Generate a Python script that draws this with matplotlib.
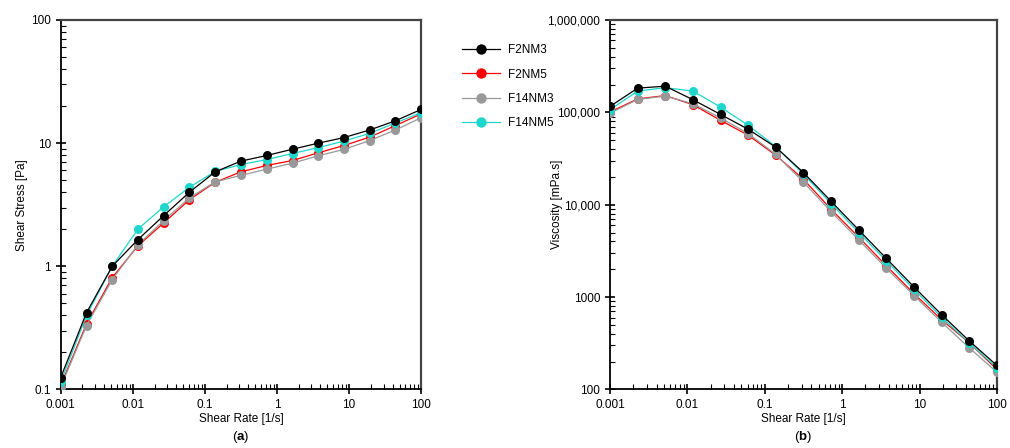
import matplotlib
matplotlib.use("Agg")
import matplotlib.pyplot as plt
from matplotlib.ticker import LogLocator, FixedLocator, FixedFormatter, NullFormatter

# --- data ---
shear_rate = [0.001, 0.00228, 0.00518, 0.0118, 0.0268, 0.0611, 0.139, 0.316,
              0.720, 1.64, 3.73, 8.48, 19.3, 43.9, 100]

series_names = ["F2NM3", "F2NM5", "F14NM3", "F14NM5"]
series_colors = ["#000000", "#ff0000", "#999999", "#1fd6cc"]
series_z = [6, 3, 4, 5]

stress_f2nm3 = [0.125, 0.42, 1.0, 1.65, 2.58, 4.0, 5.85, 7.15, 7.94, 8.93, 10.0, 11.1, 12.8, 15.2, 18.8]
stress_f2nm5 = [0.108, 0.34, 0.81, 1.47, 2.25, 3.48, 4.82, 5.85, 6.59, 7.23, 8.35, 9.57, 11.2, 13.9, 17.3]
stress_f14nm3 = [0.105, 0.33, 0.78, 1.50, 2.35, 3.60, 4.85, 5.48, 6.15, 6.88, 7.9, 8.89, 10.5, 12.8, 16.1]
stress_f14nm5 = [0.115, 0.40, 1.0, 2.01, 3.04, 4.39, 5.9, 6.7, 7.36, 8.24, 9.2, 10.4, 12.0, 14.6, 17.7]

visc_f2nm3 = [116000, 183000, 192000, 137000, 95000, 65600, 41900, 22300, 10900, 5330, 2620, 1290, 646, 336, 182]
visc_f2nm5 = [100800, 140000, 152000, 121000, 82000, 56500, 34300, 18900, 8920, 4450, 2180, 1090, 570, 320, 165]
visc_f14nm3 = [98000, 138000, 150000, 124000, 87000, 59000, 35000, 17600, 8400, 4160, 2050, 1040, 535, 282, 154]
visc_f14nm5 = [107000, 170000, 185000, 170000, 114000, 72400, 42500, 21500, 10300, 5000, 2460, 1210, 605, 320, 172]

stress = [stress_f2nm3, stress_f2nm5, stress_f14nm3, stress_f14nm5]
visc = [visc_f2nm3, visc_f2nm5, visc_f14nm3, visc_f14nm5]

x_ticks = [0.001, 0.01, 0.1, 1, 10, 100]
x_labels = ["0.001", "0.01", "0.1", "1", "10", "100"]
y1_ticks = [0.1, 1, 10, 100]
y1_labels = ["0.1", "1", "10", "100"]
y2_ticks = [100, 1000, 10000, 100000, 1000000]
y2_labels = ["100", "1000", "10,000", "100,000", "1,000,000"]

plt.rcParams['font.family'] = ['Liberation Sans', 'DejaVu Sans']
plt.rcParams['font.size'] = 8
plt.rcParams['mathtext.fontset'] = 'custom'
plt.rcParams['mathtext.rm'] = 'Liberation Sans'
plt.rcParams['mathtext.bf'] = 'Liberation Sans:bold'

fig = plt.figure(figsize=(10.1, 4.48), dpi=100)
ax1 = fig.add_axes([0.0601, 0.1306, 0.357, 0.8248])
ax2 = fig.add_axes([0.604, 0.1306, 0.383, 0.8248])


def style_axis(ax, yticks, ylabels, ylim, ylabel, panel, ylabel_x):
    ax.set_xscale('log')
    ax.set_yscale('log')
    ax.set_xlim(0.001, 100)
    ax.set_ylim(*ylim)
    ax.xaxis.set_major_locator(FixedLocator(x_ticks))
    ax.xaxis.set_major_formatter(FixedFormatter(x_labels))
    ax.yaxis.set_major_locator(FixedLocator(yticks))
    ax.yaxis.set_major_formatter(FixedFormatter(ylabels))
    ax.xaxis.set_minor_locator(LogLocator(base=10, subs=range(2, 10), numticks=20))
    ax.yaxis.set_minor_locator(LogLocator(base=10, subs=range(2, 10), numticks=20))
    ax.xaxis.set_minor_formatter(NullFormatter())
    ax.yaxis.set_minor_formatter(NullFormatter())
    ax.tick_params(which='major', direction='inout', length=7, width=1.2,
                   labelsize=8.5, top=False, right=False)
    ax.tick_params(which='minor', direction='in', length=3.5, width=0.8,
                   top=False, right=False)
    for side in ['left', 'bottom']:
        ax.spines[side].set_linewidth(1.3)
        ax.spines[side].set_color('black')
    for side in ['top', 'right']:
        ax.spines[side].set_linewidth(1.6)
        ax.spines[side].set_color('#444444')
    ax.set_xlabel('Shear Rate [1/s]', fontsize=8.5, labelpad=1)
    ax.set_ylabel(ylabel, fontsize=8.5)
    ax.yaxis.set_label_coords(ylabel_x, 0.5)
    ax.text(0.5, -0.128, '(' + r'$\mathbf{' + panel + '}$' + ')', transform=ax.transAxes,
            ha='center', va='center', fontsize=9.5)


for vals, name, col, z in zip(stress, series_names, series_colors, series_z):
    ax1.plot(shear_rate, vals, color=col, lw=0.9, marker='o', ms=6.5,
             markeredgewidth=0, label=name, zorder=z)
for vals, name, col, z in zip(visc, series_names, series_colors, series_z):
    ax2.plot(shear_rate, vals, color=col, lw=0.9, marker='o', ms=6.5,
             markeredgewidth=0, label=name, zorder=z)

style_axis(ax1, y1_ticks, y1_labels, (0.1, 100), 'Shear Stress [Pa]', 'a', -0.092)
style_axis(ax2, y2_ticks, y2_labels, (100, 1000000), 'Viscosity [mPa.s]', 'b', -0.122)

handles, labels = ax1.get_legend_handles_labels()
fig.legend(handles, labels, loc='upper left', bbox_to_anchor=(0.447, 0.925),
           frameon=False, fontsize=8.5, handlelength=3.2, labelspacing=1.05,
           handletextpad=0.7, markerscale=1.15)

fig.savefig('out.png', dpi=100)
